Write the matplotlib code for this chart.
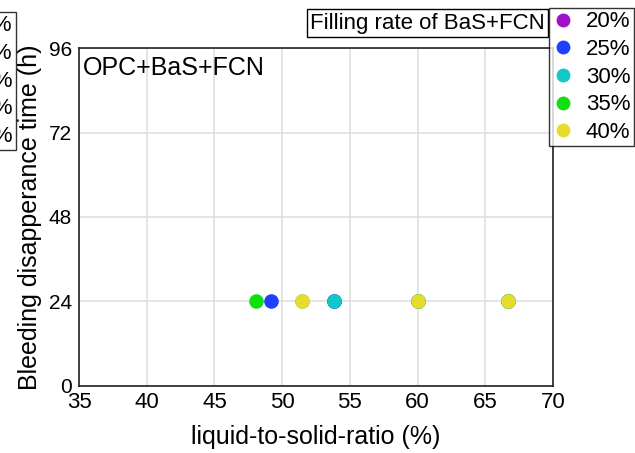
import matplotlib
matplotlib.use("Agg")
import matplotlib.pyplot as plt
from matplotlib.lines import Line2D

plt.rcParams['font.family'] = ['Liberation Sans', 'DejaVu Sans']

# filling rate of BaS+FCN -> liquid-to-solid ratio (%) of each mix
rates = ["20%", "25%", "30%", "35%", "40%"]
colors = ["#a010c8", "#2040ff", "#10c8c8", "#10e010", "#e6dc30"]
ratio_20 = [53.8, 60.0, 66.7]
ratio_25 = [49.2, 53.8, 60.0, 66.7]
ratio_30 = [53.8, 60.0, 66.7]
ratio_35 = [48.1, 51.5, 60.0, 66.7]
ratio_40 = [51.5, 60.0, 66.7]
ratios = [ratio_20, ratio_25, ratio_30, ratio_35, ratio_40]
bleed_hours = 24  # every mix stopped bleeding at 24 h

x_ticks = [35, 40, 45, 50, 55, 60, 65, 70]
y_ticks = [0, 24, 48, 72, 96]

fig = plt.figure(figsize=(6.35, 4.53), dpi=100)
ax = fig.add_axes([0.1244, 0.148, 0.7466, 0.746])

for xs, c in zip(ratios, colors):
    ax.scatter(xs, [bleed_hours] * len(xs), s=110, color=c, zorder=3,
               linewidths=0)

ax.set_xlim(35, 70)
ax.set_ylim(0, 96)
ax.set_xticks(x_ticks)
ax.set_yticks(y_ticks)
ax.grid(True, color='#dddddd', linewidth=1.1)
ax.set_axisbelow(True)
ax.tick_params(length=0, labelsize=15, pad=5)
ax.tick_params(axis='x', labelsize=16, pad=4)
for sp in ax.spines.values():
    sp.set_color('#222222')
    sp.set_linewidth(1.2)

ax.set_xlabel("liquid-to-solid-ratio (%)", fontsize=18, labelpad=9)
ax.set_ylabel("Bleeding disapperance time (h)", fontsize=18, labelpad=5)
ax.text(0.008, 0.975, "OPC+BaS+FCN", transform=ax.transAxes, fontsize=18,
        ha='left', va='top')

handles = [Line2D([], [], marker='o', linestyle='', markersize=10,
                  markerfacecolor=c, markeredgewidth=0) for c in colors]

leg_kw = dict(frameon=True, fancybox=False, fontsize=16, handletextpad=0.5,
              borderpad=0.15, labelspacing=0.3, handlelength=1.0,
              borderaxespad=0)
right_leg = fig.legend(handles, rates, loc='upper left',
                       bbox_to_anchor=(549 / 635, 1 - 8 / 453), **leg_kw)
right_leg.get_frame().set_edgecolor('black')
right_leg.get_frame().set_linewidth(1.0)

left_leg = fig.legend(handles, rates, loc='upper right',
                      bbox_to_anchor=(16 / 635, 1 - 12 / 453), **leg_kw)
left_leg.get_frame().set_edgecolor('black')
left_leg.get_frame().set_linewidth(1.0)

fig.text(545 / 635, 1 - 23 / 453, "Filling rate of BaS+FCN", fontsize=16,
         ha='right', va='center',
         bbox=dict(boxstyle='square,pad=0.15', facecolor='white',
                   edgecolor='black', linewidth=1.0))

fig.savefig("out.png", dpi=100)
